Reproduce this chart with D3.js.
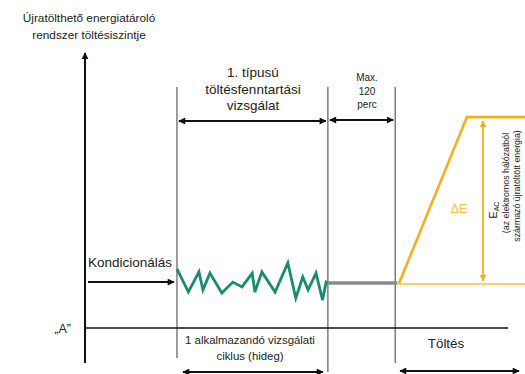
<!DOCTYPE html>
<html><head><meta charset="utf-8">
<script src="https://cdn.jsdelivr.net/npm/d3@7"></script>
<style>
body{margin:0;background:#fff;}
svg{display:block;font-family:"Liberation Sans",Arial,sans-serif;}
</style></head>
<body><svg id="c" width="525" height="374"></svg>
<script>
// ---- data ----
const phaseBounds = [20.9, 55.2, 70.5];            // end of conditioning, end of CS test, end of soak
const zigT   = [20.9,23.5,25.9,26.8,28.4,31.1,33.6,35.7,38.0,38.6,40.2,43.2,46.1,47.9,49.5,50.7,52.5,54.0,54.8,55.2];
const zigSoc = [19.7,12.0,18.7,12.7,18.3,11.7,15.3,13.7,18.3,12.0,18.7,12.0,21.7,10.0,17.0,12.7,18.3,9.3,15.3,15.0];
const soakT   = [55.2, 71.0];
const soakSoc = [15.0, 15.0];
const chargeT   = [71.4, 86.8, 100];
const chargeSoc = [15.0, 70.3, 70.3];
const baseLineT = [70.9, 100];
const baseLineSoc = [14.7, 14.7];
const levelA = 0;
const titleLines = ["Újratölthető energiatároló", "rendszer töltésiszintje"];
const testLabel = ["1. típusú", "töltésfenntartási", "vizsgálat"];
const soakLabel = ["Max.", "120", "perc"];
const cycleLabel = ["1 alkalmazandó vizsgálati", "ciklus (hideg)"];
const eacLines = ["(az elektromos hálózatból", "származó újratöltött energia)"];

// ---- scales ----
const x = d3.scaleLinear().domain([0, 100]).range([85, 525]);
const y = d3.scaleLinear().domain([0, 100]).range([328, 28]);

const svg = d3.select("#c");
const defs = svg.append("defs");
function marker(id, color, w, h) {
  defs.append("marker").attr("id", id).attr("viewBox", "0 0 10 10")
    .attr("refX", 9).attr("refY", 5).attr("markerWidth", w).attr("markerHeight", h)
    .attr("markerUnits", "userSpaceOnUse").attr("orient", "auto-start-reverse")
    .append("path").attr("d", "M0,0L10,5L0,10Z").attr("fill", color);
}
marker("ab", "#111", 8, 7);
marker("ay", "#f2b01e", 7, 7);
marker("axis", "#111", 7, 9);

const line = d3.line().x(d => x(d[0])).y(d => y(d[1]));

// vertical phase dividers
const divBottoms = [358, 372, 363];
phaseBounds.forEach((t, i) => {
  svg.append("line").attr("x1", x(t)).attr("x2", x(t)).attr("y1", 87).attr("y2", divBottoms[i])
    .attr("stroke", "#6a6a6a").attr("stroke-width", 1.3);
});

// axes
svg.append("line").attr("x1", x(0)).attr("x2", x(0)).attr("y1", 363).attr("y2", 53)
  .attr("stroke", "#111").attr("stroke-width", 2).attr("marker-end", "url(#axis)");
svg.append("line").attr("x1", x(0)).attr("x2", 508).attr("y1", y(levelA)).attr("y2", y(levelA))
  .attr("stroke", "#111").attr("stroke-width", 1.6);

// title
svg.append("text").attr("text-anchor", "middle").attr("font-size", 11.8).attr("fill", "#222")
  .selectAll("tspan").data(titleLines).join("tspan")
  .attr("x", 89).attr("y", (d, i) => 22 + i * 17).text(d => d);

// „A"
svg.append("text").attr("x", 71).attr("y", 333).attr("text-anchor", "end")
  .attr("font-size", 12.5).attr("fill", "#222").text("„A”");

// conditioning
svg.append("text").attr("x", 88).attr("y", 267).attr("font-size", 13.5).attr("fill", "#222")
  .text("Kondicionálás");
svg.append("line").attr("x1", 88).attr("x2", 174).attr("y1", y(15.3)).attr("y2", y(15.3))
  .attr("stroke", "#111").attr("stroke-width", 2).attr("marker-end", "url(#ab)");

// test label + arrow
svg.append("text").attr("text-anchor", "middle").attr("font-size", 13.5).attr("fill", "#222")
  .selectAll("tspan").data(testLabel).join("tspan")
  .attr("x", 253).attr("y", (d, i) => 77 + i * 16.5).text(d => d);
svg.append("line").attr("x1", x(phaseBounds[0]) + 2).attr("x2", x(phaseBounds[1]) - 2)
  .attr("y1", 121).attr("y2", 121).attr("stroke", "#111").attr("stroke-width", 2)
  .attr("marker-start", "url(#ab)").attr("marker-end", "url(#ab)");

// soak label + arrow
svg.append("text").attr("text-anchor", "middle").attr("font-size", 10).attr("fill", "#222")
  .selectAll("tspan").data(soakLabel).join("tspan")
  .attr("x", 367).attr("y", (d, i) => 81 + i * 13.5).text(d => d);
svg.append("line").attr("x1", x(phaseBounds[1]) + 2).attr("x2", x(phaseBounds[2]) - 2)
  .attr("y1", 120).attr("y2", 120).attr("stroke", "#111").attr("stroke-width", 2)
  .attr("marker-start", "url(#ab)").attr("marker-end", "url(#ab)");

// zigzag
svg.append("path").datum(d3.zip(zigT, zigSoc)).attr("d", line)
  .attr("fill", "none").attr("stroke", "#1a8a72").attr("stroke-width", 2.8)
  .attr("stroke-linejoin", "miter");

// soak
svg.append("path").datum(d3.zip(soakT, soakSoc)).attr("d", line)
  .attr("fill", "none").attr("stroke", "#8a8a8a").attr("stroke-width", 3.5);

// charging
svg.append("path").datum(d3.zip(baseLineT, baseLineSoc)).attr("d", line)
  .attr("fill", "none").attr("stroke", "#f5c440").attr("stroke-width", 1.5);
svg.append("path").datum(d3.zip(chargeT, chargeSoc)).attr("d", line)
  .attr("fill", "none").attr("stroke", "#f2b01e").attr("stroke-width", 2.6);
svg.append("line").attr("x1", 483).attr("x2", 483).attr("y1", y(chargeSoc[2]) + 4).attr("y2", y(baseLineSoc[0]) - 3)
  .attr("stroke", "#f2b01e").attr("stroke-width", 1.8)
  .attr("marker-start", "url(#ay)").attr("marker-end", "url(#ay)");
svg.append("text").attr("x", 459).attr("y", 213).attr("text-anchor", "middle")
  .attr("font-size", 12.5).attr("fill", "#f5c040").text("ΔE");

// E_AC rotated labels
const eac = svg.append("text").attr("transform", "translate(497,210) rotate(-90)")
  .attr("text-anchor", "middle").attr("font-size", 10.5).attr("fill", "#222");
eac.append("tspan").text("E");
eac.append("tspan").attr("font-size", 7).attr("dy", 2).text("AC");
eacLines.forEach((s, i) => {
  svg.append("text").attr("transform", `translate(${509 + i * 11},${183 + i * 3}) rotate(-90)`)
    .attr("text-anchor", "middle").attr("font-size", 8.8).attr("fill", "#222").text(s);
});

// bottom labels
svg.append("text").attr("text-anchor", "middle").attr("font-size", 11.4).attr("fill", "#222")
  .selectAll("tspan").data(cycleLabel).join("tspan")
  .attr("x", 250).attr("y", (d, i) => 344 + i * 16).text(d => d);
svg.append("line").attr("x1", 183).attr("x2", 323).attr("y1", 372).attr("y2", 372)
  .attr("stroke", "#111").attr("stroke-width", 2)
  .attr("marker-start", "url(#ab)").attr("marker-end", "url(#ab)");
svg.append("text").attr("x", 446).attr("y", 348).attr("text-anchor", "middle")
  .attr("font-size", 13.4).attr("fill", "#222").text("Töltés");
svg.append("line").attr("x1", 400).attr("x2", 519).attr("y1", 371).attr("y2", 371)
  .attr("stroke", "#111").attr("stroke-width", 2)
  .attr("marker-start", "url(#ab)").attr("marker-end", "url(#ab)");
</script></body></html>
